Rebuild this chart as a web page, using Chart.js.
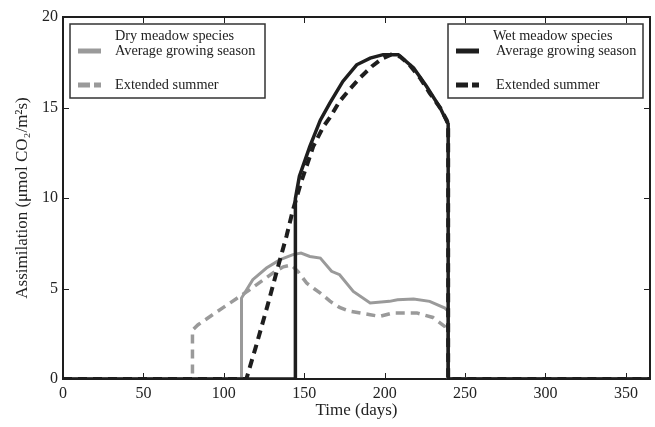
<!DOCTYPE html>
<html>
<head>
<meta charset="utf-8">
<script src="https://cdn.jsdelivr.net/npm/chart.js@4"></script>
<style>
  html, body { margin: 0; padding: 0; background: #fff; }
  #wrap { width: 655px; height: 427px; }
</style>
</head>
<body>
<div id="wrap"><canvas id="chart" width="655" height="427"></canvas></div>
<script>
// values (day of year -> assimilation)
const dryAvgDays = [0, 111, 111, 118, 126.5, 135, 143, 148, 153.5, 160, 167, 172, 180.5, 191, 203, 208, 218, 228, 237.5, 239.5, 239.5, 365];
const dryAvgVals = [0, 0, 4.47, 5.49, 6.13, 6.59, 6.87, 6.96, 6.77, 6.68, 5.95, 5.76, 4.84, 4.2, 4.29, 4.38, 4.42, 4.29, 3.92, 3.75, 0, 0];

const dryExtDays = [0, 80.5, 80.5, 84, 93, 100, 108, 116, 125, 132, 137, 142, 146, 151.5, 156, 160, 166, 172, 178, 191, 197, 205, 220, 230, 237.5, 239.5, 239.5, 365];
const dryExtVals = [0, 0, 2.7, 3.0, 3.55, 3.97, 4.45, 4.93, 5.5, 5.95, 6.2, 6.3, 5.95, 5.3, 5.0, 4.75, 4.3, 3.95, 3.75, 3.55, 3.46, 3.65, 3.65, 3.4, 2.9, 2.5, 0, 0];

const wetAvgDays = [0, 144.5, 144.5, 147, 153.5, 160, 166, 174, 182.6, 191, 199, 208.5, 218, 226, 234.6, 238.6, 239.5, 239.5, 365];
const wetAvgVals = [0, 0, 9.96, 11.2, 12.85, 14.3, 15.25, 16.44, 17.36, 17.73, 17.92, 17.92, 17.18, 16.17, 14.97, 14.23, 14.1, 0, 0];

const wetExtDays = [0, 114, 120, 127, 134, 139, 143, 148, 155.6, 162, 166, 172, 178, 184.6, 192, 199, 204, 209.5, 215, 222, 228, 234.6, 238.6, 239.5, 239.5, 365];
const wetExtVals = [0, 0, 1.8, 4.0, 6.3, 7.9, 9.35, 10.85, 12.85, 13.96, 14.45, 15.34, 15.98, 16.63, 17.27, 17.73, 17.92, 17.82, 17.4, 16.63, 15.8, 14.97, 14.3, 14.1, 0, 0];

const xTicks = [0, 50, 100, 150, 200, 250, 300, 350];
const yTicks = [0, 5, 10, 15, 20];

const GRAY = "#9a9a9a";
const DARK = "#1e1e1e";
const FONT = "'Liberation Serif', 'DejaVu Serif', serif";

function pts(days, vals) {
    return days.map((d, i) => ({ x: d, y: vals[i] }));
}

// frame + inward ticks on all four sides
const framePlugin = {
    id: "frame",
    beforeDatasetsDraw(chart) {
        const { ctx, chartArea: a, scales } = chart;
        ctx.save();
        ctx.strokeStyle = DARK;
        ctx.lineWidth = 1;
        ctx.beginPath();
        xTicks.forEach(v => {
            const px = Math.round(scales.x.getPixelForValue(v)) + 0.5;
            ctx.moveTo(px, a.bottom); ctx.lineTo(px, a.bottom - 6);
            ctx.moveTo(px, a.top); ctx.lineTo(px, a.top + 6);
        });
        yTicks.forEach(v => {
            const py = Math.round(scales.y.getPixelForValue(v)) + 0.5;
            ctx.moveTo(a.left, py); ctx.lineTo(a.left + 6, py);
            ctx.moveTo(a.right, py); ctx.lineTo(a.right - 6, py);
        });
        ctx.stroke();
        ctx.lineWidth = 2;
        ctx.strokeRect(a.left, a.top, a.right - a.left, a.bottom - a.top);
        ctx.restore();
    }
};

// two boxed legends, one per species group
const legendBoxes = [
    { title: "Dry meadow species", sets: [2, 3], left: 70, top: 24, width: 195, height: 74, titleX: 115, itemX: 115, lineX: 78 },
    { title: "Wet meadow species", sets: [0, 1], left: 448, top: 24, width: 195, height: 74, titleX: 493, itemX: 496, lineX: 456 }
];

const legendPlugin = {
    id: "boxLegends",
    afterDraw(chart) {
        const ctx = chart.ctx;
        ctx.save();
        legendBoxes.forEach(b => {
            ctx.fillStyle = "#fff";
            ctx.fillRect(b.left, b.top, b.width, b.height);
            ctx.strokeStyle = "#333";
            ctx.lineWidth = 1.5;
            ctx.setLineDash([]);
            ctx.strokeRect(b.left, b.top, b.width, b.height);

            ctx.font = "14.3px " + FONT;
            ctx.fillStyle = "#222";
            ctx.textBaseline = "middle";
            ctx.textAlign = "left";
            ctx.fillText(b.title, b.titleX, b.top + 12);

            b.sets.forEach((idx, k) => {
                const ds = chart.data.datasets[idx];
                const y = b.top + (k === 0 ? 27 : 61);
                ctx.strokeStyle = ds.borderColor;
                ctx.lineWidth = 5;
                ctx.setLineDash(ds.borderDash ? [12, 4] : []);
                ctx.beginPath();
                ctx.moveTo(b.lineX, y);
                ctx.lineTo(b.lineX + 23, y);
                ctx.stroke();
                ctx.setLineDash([]);
                ctx.fillStyle = "#222";
                ctx.fillText(ds.label, b.itemX, y);
            });
        });
        ctx.restore();
    }
};

new Chart(document.getElementById("chart"), {
    type: "line",
    data: {
        datasets: [
            { label: "Average growing season", data: pts(wetAvgDays, wetAvgVals), borderColor: DARK, borderWidth: 3.5, order: 1 },
            { label: "Extended summer", data: pts(wetExtDays, wetExtVals), borderColor: DARK, borderWidth: 4, borderDash: [9, 6], order: 1 },
            { label: "Average growing season", data: pts(dryAvgDays, dryAvgVals), borderColor: GRAY, borderWidth: 3, order: 2 },
            { label: "Extended summer", data: pts(dryExtDays, dryExtVals), borderColor: GRAY, borderWidth: 3.5, borderDash: [9, 6], order: 2 }
        ]
    },
    options: {
        responsive: false,
        animation: false,
        elements: { point: { radius: 0 }, line: { tension: 0, borderCapStyle: "butt" } },
        layout: { padding: { top: 17, right: 5, left: 0, bottom: 0 } },
        plugins: { legend: { display: false }, tooltip: { enabled: false } },
        scales: {
            x: {
                type: "linear",
                min: 0,
                max: 365,
                grid: { display: false, drawTicks: false, tickLength: 0 },
                border: { display: false },
                afterBuildTicks: s => { s.ticks = xTicks.map(v => ({ value: v })); },
                afterFit: s => { s.height = 48; },
                ticks: { color: "#222", padding: 5, maxRotation: 0, font: { family: FONT, size: 16 } },
                title: { display: true, text: "Time (days)", color: "#222", padding: { top: 0, bottom: 6 }, font: { family: FONT, size: 17 } }
            },
            y: {
                min: 0,
                max: 20,
                grid: { display: false, drawTicks: false, tickLength: 0 },
                border: { display: false },
                afterBuildTicks: s => { s.ticks = yTicks.map(v => ({ value: v })); },
                afterFit: s => { s.width = 63; },
                ticks: { color: "#222", padding: 5, font: { family: FONT, size: 16 } },
                title: { display: true, text: "Assimilation (μmol CO₂/m²s)", color: "#222", padding: { top: 12, bottom: 0 }, font: { family: FONT, size: 17 } }
            }
        }
    },
    plugins: [framePlugin, legendPlugin]
});
</script>
</body>
</html>
